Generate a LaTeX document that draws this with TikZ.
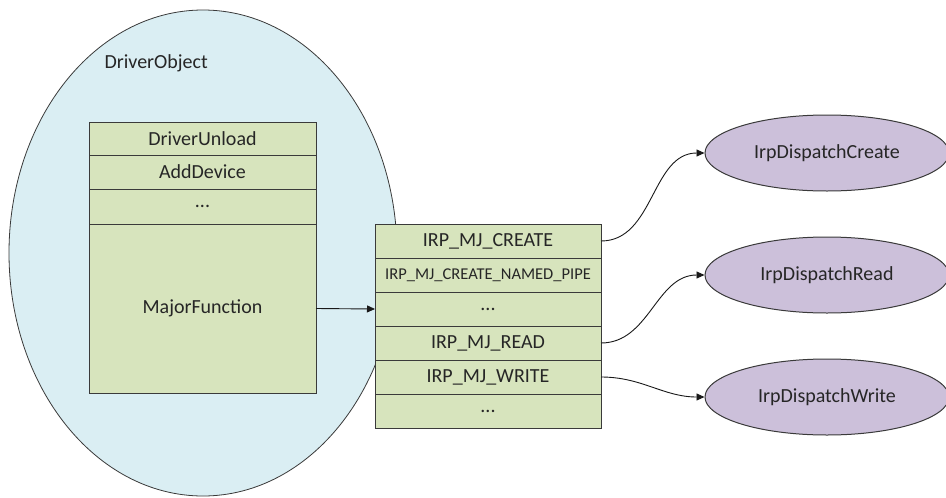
\documentclass[tikz,border=0pt]{standalone}
\usepackage{fontspec}
\setmainfont{Carlito}
\usepackage{tikz}
\usetikzlibrary{arrows.meta, positioning, shapes.geometric}

\definecolor{objblue}{HTML}{DAEEF3}
\definecolor{cellgreen}{HTML}{D7E4BD}
\definecolor{routinepurple}{HTML}{CCC0DA}
\definecolor{edgegray}{HTML}{3A3A3A}

\tikzset{
    cell/.style={draw=edgegray, fill=cellgreen, line width=1pt, inner sep=0pt,
        outer sep=0pt, text=black!85, font=\fontsize{20}{23}\selectfont},
    drvcell/.style={cell, minimum width=227pt},
    irpcell/.style={cell, minimum width=226pt, minimum height=34pt},
    dispatch/.style={ellipse, draw=edgegray, fill=routinepurple, line width=1pt,
        minimum width=244pt, minimum height=76pt, inner sep=0pt,
        text=black!85, font=\fontsize{20}{23}\selectfont},
    link/.style={->, line width=0.9pt, draw=black!90}
}

\begin{document}
\begin{tikzpicture}[x=1pt, y=-1pt, >={Triangle[length=8pt, width=7pt]}]
    \useasboundingbox (0,0) rectangle (946,498);
    \fill[white] (0,0) rectangle (946,498);

    % Driver object (big ellipse)
    \node[ellipse, draw=edgegray, fill=objblue, line width=0.8pt,
        minimum width=388pt, minimum height=486pt] (drvobj) at (203,253) {};
    \node[anchor=west, text=black!85, font=\fontsize{20}{23}\selectfont]
        (drvname) at (101,63) {DriverObject};

    % Fields of the driver object
    \node[drvcell, minimum height=33pt, anchor=north west] (unload) at (89,122) {DriverUnload};
    \node[drvcell, minimum height=34pt, below=0pt of unload] (adddev) {AddDevice};
    \node[drvcell, minimum height=35pt, below=0pt of adddev] (fdots) {...};
    \node[drvcell, minimum height=169pt, below=0pt of fdots] (major) {MajorFunction};

    % MajorFunction table
    \node[irpcell, anchor=north west] (create) at (375,224) {IRP\_MJ\_CREATE};
    \node[irpcell, below=0pt of create, font=\fontsize{16.5}{19}\selectfont] (pipe) {IRP\_MJ\_CREATE\_NAMED\_PIPE};
    \node[irpcell, below=0pt of pipe] (mdots) {...};
    \node[irpcell, below=0pt of mdots] (read) {IRP\_MJ\_READ};
    \node[irpcell, below=0pt of read] (write) {IRP\_MJ\_WRITE};
    \node[irpcell, below=0pt of write] (ldots) {...};

    \draw[link] (major.east) -- (mdots.west);

    % Dispatch routines
    \node[dispatch] (dcreate) at (827,153) {IrpDispatchCreate};
    \node[dispatch] (dread) at (827,275) {IrpDispatchRead};
    \node[dispatch] (dwrite) at (827,397) {IrpDispatchWrite};

    \draw[link] (create.east) to[out=0, in=180] (dcreate.west);
    \draw[link] (read.east) to[out=0, in=180] (dread.west);
    \draw[link] (write.east) to[out=0, in=180] (dwrite.west);

\end{tikzpicture}
\end{document}
